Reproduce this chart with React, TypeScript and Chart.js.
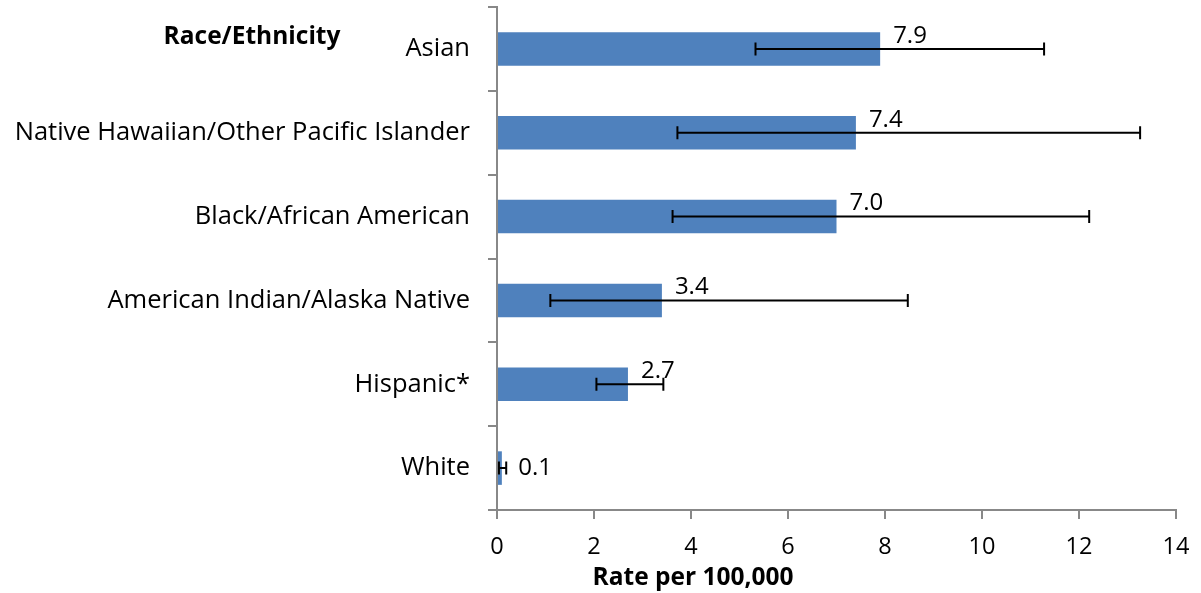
import React, { useEffect, useRef } from "react";
import { Chart, registerables } from "chart.js";

Chart.register(...registerables);

const categories = [
  "Asian",
  "Native Hawaiian/Other Pacific Islander",
  "Black/African American",
  "American Indian/Alaska Native",
  "Hispanic*",
  "White",
];
const rates = [7.9, 7.4, 7.0, 3.4, 2.7, 0.1];
const lowerCI = [5.33, 3.72, 3.62, 1.1, 2.05, 0.04];
const upperCI = [11.28, 13.26, 12.21, 8.47, 3.43, 0.19];
const xTicks = [0, 2, 4, 6, 8, 10, 12, 14];

const FONT = "'Open Sans', 'Noto Sans', sans-serif";

const overlayPlugin = {
  id: "overlay",
  afterDatasetsDraw(chart: any) {
    const ctx = chart.ctx;
    const meta = chart.getDatasetMeta(0);
    const xs = chart.scales.x;
    ctx.save();
    // error bars
    ctx.strokeStyle = "#000";
    ctx.lineWidth = 2;
    meta.data.forEach((bar: any, i: number) => {
      const y = bar.y;
      const x1 = xs.getPixelForValue(lowerCI[i]);
      const x2 = xs.getPixelForValue(upperCI[i]);
      ctx.beginPath();
      ctx.moveTo(x1, y);
      ctx.lineTo(x2, y);
      ctx.moveTo(x1, y - 6.5);
      ctx.lineTo(x1, y + 6.5);
      ctx.moveTo(x2, y - 6.5);
      ctx.lineTo(x2, y + 6.5);
      ctx.stroke();
    });
    // data labels
    ctx.fillStyle = "#000";
    ctx.font = `24px ${FONT}`;
    ctx.textBaseline = "middle";
    ctx.textAlign = "left";
    meta.data.forEach((bar: any, i: number) => {
      const last = i === meta.data.length - 1;
      const x = last ? xs.getPixelForValue(upperCI[i]) + 12 : bar.x + 13;
      const y = last ? bar.y : bar.y - 13;
      ctx.fillText(rates[i].toFixed(1), x, y);
    });
    // titles
    ctx.font = `bold 24.5px ${FONT}`;
    ctx.textAlign = "center";
    ctx.fillText("Race/Ethnicity", 252, 37);
    ctx.fillText("Rate per 100,000", 693, 578);
    ctx.restore();
  },
};

export default function App() {
  const ref = useRef<HTMLCanvasElement | null>(null);
  useEffect(() => {
    if (!ref.current) return;
    const chart = new Chart(ref.current, {
      type: "bar",
      data: {
        labels: categories,
        datasets: [
          {
            data: rates,
            backgroundColor: "#4F81BD",
            borderWidth: 0,
            barPercentage: 0.4,
            categoryPercentage: 1,
          },
        ],
      },
      options: {
        indexAxis: "y",
        animation: false,
        responsive: false,
        layout: { padding: { top: 7, right: 25, left: 0, bottom: 0 } },
        plugins: { legend: { display: false }, tooltip: { enabled: false } },
        scales: {
          x: {
            min: 0,
            max: 14,
            afterBuildTicks(scale: any) {
              scale.ticks = xTicks.map((v) => ({ value: v }));
            },
            afterFit(scale: any) {
              scale.height = 593 - 7 - 503;
              scale.paddingLeft = 0;
              scale.paddingRight = 0;
            },
            grid: {
              drawOnChartArea: false,
              drawTicks: true,
              tickLength: 9,
              color: "#888",
              lineWidth: 2,
            },
            border: { color: "#888", width: 2 },
            ticks: {
              color: "#000",
              font: { family: FONT, size: 23.5 },
              padding: 14,
            },
          },
          y: {
            afterFit(scale: any) {
              scale.width = 497;
              scale.paddingTop = 0;
              scale.paddingBottom = 0;
            },
            grid: {
              drawOnChartArea: false,
              drawTicks: true,
              tickLength: 9,
              color: "#888",
              lineWidth: 2,
              offset: true,
            },
            border: { color: "#888", width: 2 },
            ticks: {
              color: "#000",
              font: { family: FONT, size: 25.5 },
              padding: 18,
            },
          },
        },
      },
      plugins: [overlayPlugin],
    });
    return () => chart.destroy();
  }, []);
  return (
    <div style={{ position: "fixed", left: 0, top: 0, width: 1201, height: 593, background: "#fff" }}>
      <canvas ref={ref} width={1201} height={593} />
    </div>
  );
}
